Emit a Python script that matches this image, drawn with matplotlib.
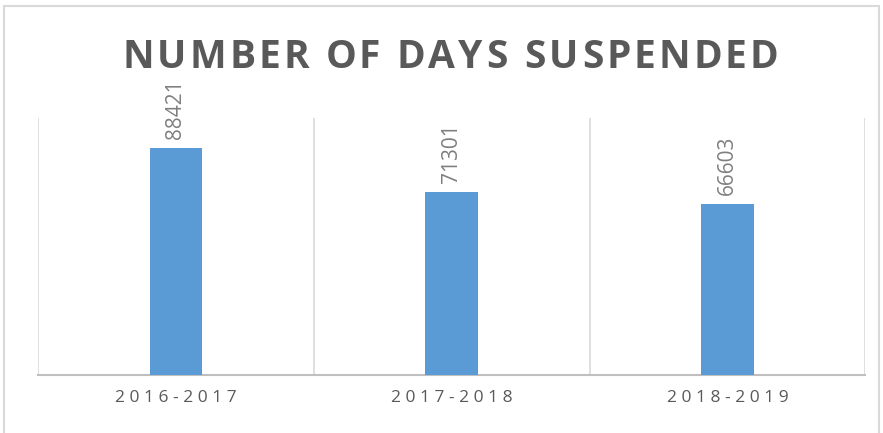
import matplotlib.pyplot as plt
from matplotlib.patches import Rectangle

years = ['2016-2017', '2017-2018', '2018-2019']
days_suspended = [88421, 71301, 66603]
title = 'NUMBER OF DAYS SUSPENDED'

bar_color = '#5B9BD5'
grid_color = '#D9D9D9'
text_gray = '#595959'

fig = plt.figure(figsize=(8.83, 4.33), dpi=100)
ax = fig.add_axes([0.043, 0.134, 0.937, 0.594])

x = list(range(len(years)))
bars = ax.bar(x, days_suspended, width=0.19, color=bar_color, zorder=3)

ax.set_xlim(-0.5, len(years) - 0.5)
ax.set_ylim(0, 100000)

# vertical separators between categories
for b in [i - 0.5 for i in range(len(years) + 1)]:
    ax.axvline(b, color=grid_color, lw=1.2, zorder=1)

for s in ['top', 'left', 'right']:
    ax.spines[s].set_visible(False)
ax.spines['bottom'].set_color('#BFBFBF')
ax.spines['bottom'].set_linewidth(1.5)
ax.set_yticks([])
ax.set_xticks(x)
ax.set_xticklabels([' '.join(y) for y in years], fontsize=12.5, color=text_gray,
                   family='Open Sans')
ax.tick_params(axis='x', length=0, pad=11)

for rect, v in zip(bars, days_suspended):
    ax.annotate(str(v), (rect.get_x() + rect.get_width() / 2, v),
                xytext=(0, 6), textcoords='offset points', rotation=90,
                ha='center', va='bottom', fontsize=15, color='#7F7F7F',
                family='Open Sans')

# title with letter spacing, drawn char by char
renderer = fig.canvas.get_renderer()
tkw = dict(fontsize=28, fontweight='bold', color=text_gray, family='Open Sans')

def width_px(s):
    t = fig.text(0, 0, s, **tkw)
    w = t.get_window_extent(renderer).width
    t.remove()
    return w

base = width_px('XX')
adv = [width_px('X' + c + 'X') - base for c in title]
target_w = 656
spacing = (target_w - sum(adv)) / (len(title) - 1)
W, H = fig.get_size_inches() * fig.dpi
px = 450 - target_w / 2
for c, a in zip(title, adv):
    if c != ' ':
        fig.text(px / W, 0.868, c, ha='left', va='center', **tkw)
    px += a + spacing

# outer chart border
fig.patches.append(Rectangle((0.005, -0.01), 0.99, 0.997, transform=fig.transFigure,
                             fill=False, edgecolor='#D9D9D9', lw=1.5))

fig.savefig('out.png', dpi=100)
